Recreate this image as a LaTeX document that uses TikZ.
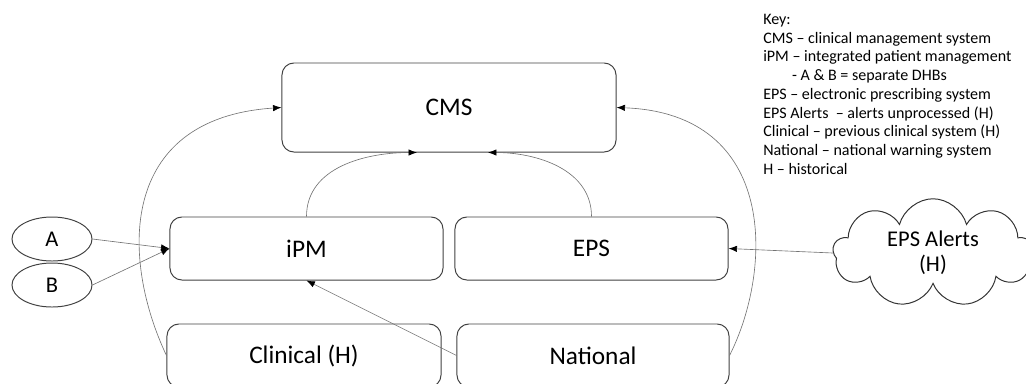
\documentclass[tikz,border=0pt]{standalone}
\usepackage{fontspec}
\setmainfont{Carlito}
\usetikzlibrary{arrows.meta,shapes.symbols,shapes.geometric}

\tikzset{
  sysbox/.style={draw=black!75,line width=0.7pt,rounded corners=0.3cm,
    minimum width=6.825cm,minimum height=1.575cm,font=\fontsize{18}{20}\selectfont},
  dhb/.style={draw=black!75,line width=0.7pt,ellipse,minimum width=2cm,
    minimum height=1.1cm,inner sep=0pt,font=\fontsize{16}{18}\selectfont},
  feed/.style={draw=black!55,line width=0.45pt,-{Latex[length=6pt,width=4.5pt,color=black]}}
}

\begin{document}
\begin{tikzpicture}[x=0.025cm,y=-0.025cm]
	\useasboundingbox (0,0) rectangle (1026,383);

	% systems
	\node (cms) [sysbox,minimum width=8.35cm,minimum height=2.225cm] at (449,107.5) {CMS};
	\node (ipm) [sysbox] at (306.5,248.5) {iPM};
	\node (eps) [sysbox] at (591.5,248.5) {EPS};
	\node (clin) [sysbox,minimum width=6.85cm] at (304,355.5) {Clinical (H)};
	\node (nat) [sysbox,minimum width=6.8cm] at (593,355.5) {National};

	% DHBs
	\node (a) [dhb] at (52,239) {A};
	\node (b) [dhb] at (52,285) {B};

	\node (alerts) [draw=black!80,line width=0.7pt,cloud,cloud puffs=9,cloud ignores aspect,
	    minimum width=5cm,minimum height=2.35cm,align=center,
	    font=\fontsize{16}{18}\selectfont] at (933,253) {EPS Alerts\\(H)};

	% feeds
	\draw [feed] (a.east) -- (ipm.west);
	\draw [feed] (b.east) -- (ipm.west);
	\draw [feed] (nat.west) -- (ipm.south);
	\draw [feed] (alerts.west) -- (eps.east);
	\draw [feed] (ipm.north) to[out=90,in=180] ([xshift=-0.8cm]cms.south);
	\draw [feed] (eps.north) to[out=90,in=0] ([xshift=0.975cm]cms.south);
	\draw [feed] (clin.west) .. controls +(-45,-95) and +(-165,11) .. (cms.west);
	\draw [feed] (nat.east) .. controls +(43,-85) and +(162,6) .. (cms.east);

	% key
	\node (key) [anchor=north west,inner sep=0pt,align=left,
	    font=\fontsize{11.4}{13.3}\selectfont] at (763,14) {Key:\\
	  CMS – clinical management system\\
	  iPM – integrated patient management\\
	  \hspace*{0.72cm}- A \& B = separate DHBs\\
	  EPS – electronic prescribing system\\
	  EPS Alerts \ – alerts unprocessed (H)\\
	  Clinical – previous clinical system (H)\\
	  National – national warning system\\
	  H – historical};

\end{tikzpicture}
\end{document}
